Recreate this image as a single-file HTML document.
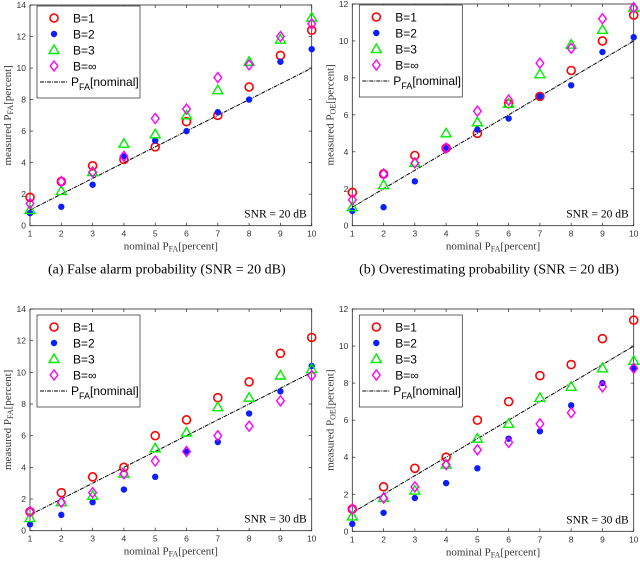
<!DOCTYPE html>
<html><head><meta charset="utf-8"><style>
body{margin:0;background:#fff;width:640px;height:561px;overflow:hidden}
svg text{font-family:"Liberation Sans",sans-serif}
.serif{font-family:"Liberation Serif",serif}
</style></head><body>
<svg id="fig" width="640" height="561" viewBox="0 0 640 561" xmlns="http://www.w3.org/2000/svg"></svg>
<script>
const xCats=[1,2,3,4,5,6,7,8,9,10];
const a_B1=[1.8,2.8,3.8,4.2,5.0,6.6,7.0,8.8,10.8,12.4];
const a_B2=[0.8,1.2,2.6,4.4,5.4,6.0,7.2,8.0,10.4,11.2];
const a_B3=[1.0,2.2,3.4,5.2,5.8,7.0,8.6,10.4,11.8,13.2];
const a_Binf=[1.4,2.8,3.4,4.4,6.8,7.4,9.4,10.2,12.0,12.8];
const b_B1=[1.8,2.8,3.8,4.2,5.0,6.6,7.0,8.4,10.0,11.4];
const b_B2=[0.8,1.0,2.4,4.2,5.2,5.8,7.0,7.6,9.4,10.2];
const b_B3=[1.0,2.2,3.4,5.0,5.6,6.6,8.2,9.8,10.6,11.8];
const b_Binf=[1.4,2.8,3.4,4.2,6.2,6.8,8.8,9.6,11.2,11.8];
const c_B1=[1.2,2.4,3.4,4.0,6.0,7.0,8.4,9.4,11.2,12.2];
const c_B2=[0.4,1.0,1.8,2.6,3.4,5.0,5.6,7.4,8.8,10.4];
const c_B3=[0.8,1.8,2.2,3.6,5.2,6.2,7.8,8.4,9.8,10.2];
const c_Binf=[1.2,1.8,2.4,3.6,4.4,5.0,6.0,6.6,8.2,9.8];
const d_B1=[1.2,2.4,3.4,4.0,6.0,7.0,8.4,9.0,10.4,11.4];
const d_B2=[0.4,1.0,1.8,2.6,3.4,5.0,5.4,6.8,8.0,8.8];
const d_B3=[0.8,1.8,2.2,3.6,5.0,5.8,7.2,7.8,8.8,9.2];
const d_Binf=[1.2,1.8,2.4,3.6,4.4,4.8,5.8,6.4,7.8,8.8];
const nominal=[1,2,3,4,5,6,7,8,9,10];

const NS="http://www.w3.org/2000/svg";
const fig=document.getElementById('fig');
function mk(tag,attrs,parent){const e=document.createElementNS(NS,tag);for(const k in attrs)e.setAttribute(k,attrs[k]);(parent||fig).appendChild(e);return e;}

function marker(g,type,x,y){
  let e;
  if(type==='B1'){e=mk('circle',{cx:x,cy:y,r:4,fill:'none',stroke:'#ff0000','stroke-width':1.6},g);}
  else if(type==='B2'){e=mk('circle',{cx:x,cy:y,r:3.2,fill:'#0a1eff',stroke:'none'},g);}
  else if(type==='B3'){e=mk('polygon',{points:`${x},${y-5} ${x+5},${y+3.5} ${x-5},${y+3.5}`,fill:'none',stroke:'#00ee00','stroke-width':1.4},g);}
  else {e=mk('polygon',{points:`${x},${y-5} ${x+3.8},${y} ${x},${y+5} ${x-3.8},${y}`,fill:'none',stroke:'#ff00ff','stroke-width':1.4},g);}
  return e;
}

function panel(id,L,R,T,B,ymax,series,ysub,snr,caption,legOff){
  const g=mk('g',{});
  
  
  const xs=v=>L+(v-1)/9*(R-L);
  const ys=v=>B-v/ymax*(B-T);
  mk('rect',{x:L,y:T,width:R-L,height:B-T,fill:'#fff',stroke:'#262626','stroke-width':0.8},g);
  for(const v of xCats){
    const x=xs(v);
    mk('line',{x1:x,y1:B,x2:x,y2:B-3,stroke:'#262626','stroke-width':0.7},g);
    mk('line',{x1:x,y1:T,x2:x,y2:T+3,stroke:'#262626','stroke-width':0.7},g);
    const t=mk('text',{x:x,y:B+11,'font-size':8.5,'text-anchor':'middle',fill:'#333'},g);t.textContent=v;
    
    
  }
  for(let v=0;v<=ymax;v+=2){
    const y=ys(v);
    mk('line',{x1:L,y1:y,x2:L+3,y2:y,stroke:'#262626','stroke-width':0.7},g);
    mk('line',{x1:R,y1:y,x2:R-3,y2:y,stroke:'#262626','stroke-width':0.7},g);
    const t=mk('text',{x:L-4,y:y+3,'font-size':8.5,'text-anchor':'end',fill:'#333'},g);t.textContent=v;
    
    
  }
  const ln=mk('polyline',{points:nominal.map((v,i)=>xs(xCats[i])+','+ys(v)).join(' '),fill:'none',stroke:'#000','stroke-width':1,'stroke-dasharray':'4,1,1,1'},g);
  
  
  for(const key of ['B1','B2','B3','Binf']){
    series[key].forEach((v,i)=>{
      const m=marker(g,key,xs(xCats[i]),ys(v));
      
      
    });
  }
  const lg=mk('g',{},g);
  
  
  const lx=L+7,ly=T+legOff;
  mk('rect',{x:lx,y:ly,width:103,height:92,fill:'#fff',stroke:'#262626','stroke-width':0.7},lg);
  const labels=[['B1','B=1'],['B2','B=2'],['B3','B=3'],['Binf','B=∞']];
  labels.forEach((l,i)=>{
    const yy=ly+12+i*16;
    marker(lg,l[0],lx+17,yy);
    const t=mk('text',{x:lx+36,y:yy+4.5,'font-size':12,fill:'#000'},lg);t.textContent=l[1];
    
    
  });
  const yy=ly+12+4*16;
  mk('line',{x1:lx+3,y1:yy,x2:lx+31,y2:yy,stroke:'#000','stroke-width':1,'stroke-dasharray':'4,1,1,1'},lg);
  const t=mk('text',{x:lx+34,y:yy+4,'font-size':12,fill:'#000'},lg);
  t.innerHTML='P<tspan font-size="9" dy="4">FA</tspan><tspan dy="-4">[nominal]</tspan>';
  
  
  const s=mk('text',{x:R-5,y:B-8,'font-size':11.5,'text-anchor':'end',class:'serif',fill:'#000'},g);s.textContent=`SNR = ${snr} dB`;
  
  
  const xl=mk('text',{x:(L+R)/2,y:B+24,'font-size':11,'text-anchor':'middle',class:'serif',fill:'#333'},g);
  xl.innerHTML='nominal P<tspan font-size="8" dy="2">FA</tspan><tspan dy="-2">[percent]</tspan>';
  
  
  const cy=(T+B)/2, cx=L-19;
  const yl=mk('text',{x:cx,y:cy,'font-size':11,'text-anchor':'middle',class:'serif',fill:'#333',transform:`rotate(-90 ${cx} ${cy})`},g);
  yl.innerHTML=`measured P<tspan font-size="8" dy="2">${ysub}</tspan><tspan dy="-2">[percent]</tspan>`;
  
  
  if(caption){
    const c=mk('text',{x:(L+R)/2-4,y:B+48,'font-size':14,'text-anchor':'middle',class:'serif',fill:'#000'},g);c.textContent=caption;
    
    
  }
}
panel('panel-a',30,311.7,5,225.7,14,{B1:a_B1,B2:a_B2,B3:a_B3,Binf:a_Binf},'FA','20','(a) False alarm probability (SNR = 20 dB)',1);
panel('panel-b',352.3,633.7,4,225.7,12,{B1:b_B1,B2:b_B2,B3:b_B3,Binf:b_Binf},'OE','20','(b) Overestimating probability (SNR = 20 dB)',1);
panel('panel-c',30,311.7,309,530.7,14,{B1:c_B1,B2:c_B2,B3:c_B3,Binf:c_Binf},'FA','30',null,6);
panel('panel-d',352.3,633.7,309,531.3,12,{B1:d_B1,B2:d_B2,B3:d_B3,Binf:d_Binf},'OE','30',null,6);
</script>
</body></html>
